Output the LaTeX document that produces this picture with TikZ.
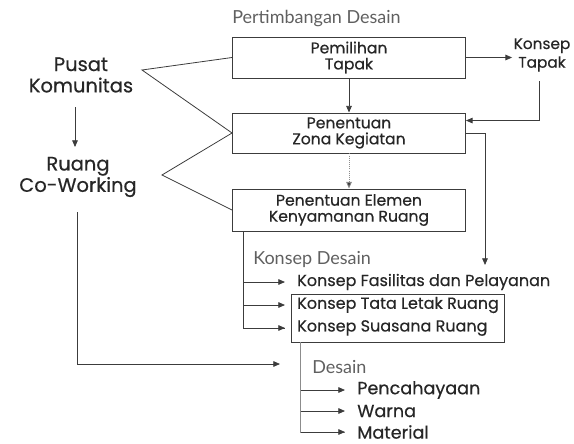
\documentclass[tikz,border=0pt]{standalone}
\usepackage{fontspec}
\setmainfont{Poppins}[FakeBold=0.5]
\newfontfamily\hdr{Lato}
\usetikzlibrary{arrows.meta}
\definecolor{ln}{HTML}{3C3C3C}
\definecolor{lt}{HTML}{8C8C8C}
\definecolor{hd}{HTML}{606060}
\definecolor{tx}{HTML}{262626}
\begin{document}
\begin{tikzpicture}[x=0.75pt,y=-0.75pt,
  ar/.style={-{Triangle[length=5pt,width=4.2pt]}},
  ln/.style={draw=ln,line width=0.6pt},
  boxn/.style={draw=ln,line width=0.7pt,align=center,text=tx,font=\fontsize{11.7}{12}\selectfont,inner sep=0pt},
  big/.style={align=center,text=tx,font=\fontsize{14.6}{16}\selectfont,inner sep=0pt},
  hdrn/.style={text=hd,font=\hdr\fontsize{13.5}{14}\selectfont,inner sep=0pt,anchor=west},
  item/.style={text=tx,font=\fontsize{12}{12}\selectfont,anchor=west,inner ysep=0pt,inner xsep=9pt},
  itemb/.style={item,font=\fontsize{13.2}{13}\selectfont}]
\useasboundingbox (0,0) rectangle (574,443);
% headers
\node[hdrn] (h1) at (232,19) {Pertimbangan Desain};
\node[hdrn] (h2) at (253,259) {Konsep Desain};
\node[hdrn] (h3) at (312,367) {Desain};
% boxes
\node[boxn,minimum width=174.75pt,minimum height=30.75pt] (b1) at (349,57.5) {Pemilihan\\Tapak};
\node[boxn,minimum width=174.75pt,minimum height=30pt] (b2) at (349,133) {Penentuan\\Zona Kegiatan};
\node[boxn,minimum width=174.75pt,minimum height=31.5pt] (b3) at (349,210) {Penentuan Elemen\\Kenyamanan Ruang};
\node[boxn,minimum width=159.75pt,minimum height=36pt] (b4) at (397.5,318) {};
% left texts
\node[big] (pk) at (81,75) {Pusat\\Komunitas};
\node[big] (rc) at (78,177) {Ruang\\Co-Working};
\node[align=center,text=tx,font=\fontsize{11.5}{14}\selectfont,inner sep=1pt] (kt) at (542,55) {Konsep\\Tapak};
% items
\node[item] (kf) at (285,282) {Konsep Fasilitas dan Pelayanan};
\node[item] (kl) at (285,305) {Konsep Tata Letak Ruang};
\node[item] (ks) at (285,328) {Konsep Suasana Ruang};
\node[itemb] (pc) at (345,390) {Pencahayaan};
\node[itemb] (wa) at (345,411) {Warna};
\node[itemb] (ma) at (345,432) {Material};
% coordinates
\coordinate (pkp) at (142,70);
\coordinate (rcp) at (162,175);
\coordinate (kfa) at (485,265);
\coordinate (dsa) at (280,364);
% connectors
\draw[ln] (b1.west) -- (pkp) -- (b2.west);
\draw[ln] (b2.west) -- (rcp) -- (b3.west);
\draw[ln,ar] (75,107) -- (75,147);
\draw[ln,ar] (b1.east) -- (b1.east -| kt.west);
\draw[ln,ar] (b1.south) -- (b2.north);
\draw[ln,ar] ([xshift=-2pt,yshift=-6pt]kt.south) |- ([yshift=-6pt]b2.north east);
\draw[ln,ar] (b2.east) -| (kfa);
\draw[lt,densely dotted,line width=0.6pt,-{Triangle[length=5pt,width=4.2pt,fill=ln]}] (b2.south) -- (b3.north);
\draw[ln,ar] (77,212) |- (dsa);
\draw[ln] ([xshift=8.25pt]b3.south west) |- (ks.west);
\draw[ln,ar] ([xshift=8.25pt]b3.south west |- kf.west) -- (kf.west);
\draw[ln,ar] ([xshift=8.25pt]b3.south west |- kl.west) -- (kl.west);
\draw[ln,ar] ([xshift=8.25pt]b3.south west |- ks.west) -- (ks.west);
\draw[lt,line width=0.6pt] ([xshift=7.5pt]b4.south west) |- (ma.west);
\draw[ln,ar] ([xshift=7.5pt]b4.south west |- pc.west) -- (pc.west);
\draw[ln,ar] ([xshift=7.5pt]b4.south west |- wa.west) -- (wa.west);
\draw[ln,ar] ([xshift=7.5pt]b4.south west |- ma.west) -- (ma.west);
\end{tikzpicture}
\end{document}
